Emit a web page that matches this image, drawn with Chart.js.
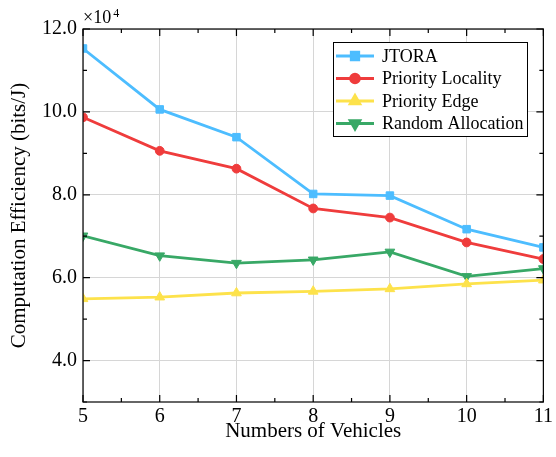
<!DOCTYPE html>
<html>
<head>
<meta charset="utf-8">
<script src="https://cdn.jsdelivr.net/npm/chart.js@4.4.1/dist/chart.umd.min.js"></script>
<style>
  html, body { margin: 0; padding: 0; background: #fff; }
  #wrap { width: 556px; height: 457px; }
</style>
</head>
<body>
<div id="wrap"><canvas id="chart" width="556" height="457"></canvas></div>
<script>
const vehicles = [5, 6, 7, 8, 9, 10, 11];
const jtora = [11.53, 10.06, 9.39, 8.02, 7.98, 7.17, 6.73];
const priorityLocality = [9.87, 9.06, 8.63, 7.67, 7.45, 6.85, 6.45];
const priorityEdge = [5.49, 5.53, 5.63, 5.67, 5.73, 5.85, 5.94];
const randomAllocation = [7.01, 6.53, 6.35, 6.43, 6.62, 6.03, 6.22];
const seriesNames = ["JTORA", "Priority Locality", "Priority Edge", "Random Allocation"];
const yTickLabels = [4, 6, 8, 10, 12];

const serif = "'Liberation Serif', 'Times New Roman', serif";
const gridColor = "#d6d6d6";

function toPoints(values) {
  return vehicles.map((v, i) => ({ x: v, y: values[i] }));
}

function makeSeries(label, values, color, pointStyle, radius, rotation) {
  return {
    label,
    data: toPoints(values),
    borderColor: color,
    backgroundColor: color,
    borderWidth: 2.8,
    pointStyle,
    pointRadius: radius,
    pointHoverRadius: radius,
    pointRotation: rotation || 0,
    pointBorderWidth: 1,
    pointBorderColor: color,
    pointBackgroundColor: color,
    tension: 0
  };
}

// frame, inward ticks, x10^4 note and the legend box
const decorations = {
  id: "decorations",
  afterDraw(chart) {
    const { ctx, chartArea: area } = chart;
    const xs = chart.scales.x;
    const ys = chart.scales.y;
    ctx.save();
    ctx.strokeStyle = "#000";
    ctx.lineWidth = 1.2;
    ctx.strokeRect(area.left, area.top, area.right - area.left, area.bottom - area.top);

    ctx.beginPath();
    xs.ticks.forEach((t, i) => {
      const px = xs.getPixelForValue(t.value);
      ctx.moveTo(px, area.bottom); ctx.lineTo(px, area.bottom - 7);
      ctx.moveTo(px, area.top); ctx.lineTo(px, area.top + 7);
      if (i < xs.ticks.length - 1) {
        const mx = xs.getPixelForValue(t.value + 0.5);
        ctx.moveTo(mx, area.bottom); ctx.lineTo(mx, area.bottom - 4);
        ctx.moveTo(mx, area.top); ctx.lineTo(mx, area.top + 4);
      }
    });
    ys.ticks.forEach((t) => {
      const py = ys.getPixelForValue(t.value);
      const len = t.value % 2 === 0 ? 7 : 4;
      ctx.moveTo(area.left, py); ctx.lineTo(area.left + len, py);
      ctx.moveTo(area.right, py); ctx.lineTo(area.right - len, py);
    });
    ctx.stroke();

    // exponent note
    ctx.fillStyle = "#000";
    ctx.textBaseline = "alphabetic";
    ctx.textAlign = "left";
    ctx.font = "18px " + serif;
    ctx.fillText("\u00d710", area.left, 23);
    const w = ctx.measureText("\u00d710").width;
    ctx.font = "12px " + serif;
    ctx.fillText("4", area.left + w + 2, 17);

    // legend
    const box = { x: 333, y: 42, w: 194, h: 94 };
    ctx.fillStyle = "#fff";
    ctx.fillRect(box.x, box.y, box.w, box.h);
    ctx.strokeStyle = "#000";
    ctx.lineWidth = 1;
    ctx.strokeRect(box.x + 0.5, box.y + 0.5, box.w, box.h);
    chart.data.datasets.forEach((ds, i) => {
      const cy = box.y + 14 + i * 22.5;
      ctx.strokeStyle = ds.borderColor;
      ctx.lineWidth = ds.borderWidth;
      ctx.beginPath();
      ctx.moveTo(box.x + 3, cy);
      ctx.lineTo(box.x + 41, cy);
      ctx.stroke();
      ctx.fillStyle = ds.backgroundColor;
      Chart.helpers.drawPoint(ctx, {
        pointStyle: ds.pointStyle,
        radius: ds.pointRadius,
        rotation: ds.pointRotation,
        borderWidth: 1
      }, box.x + 22, cy);
      ctx.fill();
      ctx.fillStyle = "#000";
      ctx.font = "18px " + serif;
      ctx.textBaseline = "middle";
      ctx.fillText(seriesNames[i], box.x + 49, cy + 1);
    });
    ctx.restore();
  }
};

new Chart(document.getElementById("chart"), {
  type: "line",
  data: {
    datasets: [
      makeSeries(seriesNames[0], jtora, "#4dbdff", "rect", 5.3),
      makeSeries(seriesNames[1], priorityLocality, "#ef3c3c", "circle", 4.4),
      makeSeries(seriesNames[2], priorityEdge, "#fde24b", "triangle", 5.6),
      makeSeries(seriesNames[3], randomAllocation, "#38a866", "triangle", 5.6, 180)
    ]
  },
  options: {
    responsive: false,
    animation: false,
    events: [],
    layout: { padding: { top: 29, right: 11, left: 0, bottom: 0 } },
    plugins: {
      legend: { display: false },
      tooltip: { enabled: false }
    },
    scales: {
      x: {
        type: "linear",
        min: 5,
        max: 11,
        afterFit(scale) { scale.height = 55; },
        ticks: {
          stepSize: 1,
          padding: 3,
          color: "#000",
          font: { family: serif, size: 20 }
        },
        grid: { color: gridColor, lineWidth: 1, drawTicks: false },
        border: { display: false },
        title: {
          display: true,
          text: "Numbers of Vehicles",
          color: "#000",
          font: { family: serif, size: 21 },
          padding: { top: 0, bottom: 13 }
        }
      },
      y: {
        min: 3,
        max: 12,
        afterFit(scale) { scale.width = 83; },
        ticks: {
          stepSize: 1,
          padding: 6,
          color: "#000",
          font: { family: serif, size: 20 },
          callback: (v) => (yTickLabels.includes(v) ? v.toFixed(1) : "")
        },
        grid: {
          color: (c) => (c.tick && c.tick.value % 2 === 0 ? gridColor : "rgba(0,0,0,0)"),
          lineWidth: 1,
          drawTicks: false
        },
        border: { display: false },
        title: {
          display: true,
          text: "Computation Efficiency (bits/J)",
          color: "#000",
          font: { family: serif, size: 21 },
          padding: { top: 7, bottom: 0 }
        }
      }
    }
  },
  plugins: [decorations]
});
</script>
</body>
</html>
